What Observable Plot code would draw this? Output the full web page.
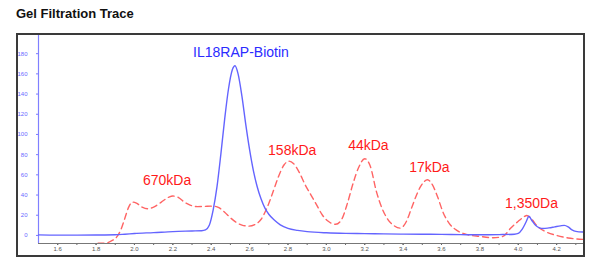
<!DOCTYPE html>
<html>
<head>
<meta charset="utf-8">
<script src="https://cdn.jsdelivr.net/npm/d3@7"></script>
<script src="https://cdn.jsdelivr.net/npm/@observablehq/plot@0.6"></script>
<style>
  html, body { margin: 0; padding: 0; background: #fff; width: 600px; height: 268px; overflow: hidden; }
  #title { position: absolute; left: 16px; top: 7px; font: bold 13px/13px "Liberation Sans", Arial, sans-serif; color: #111; white-space: nowrap; }
  #box { position: absolute; left: 16px; top: 33px; width: 565px; height: 220px; border: 2px solid #3a3a3a; background: #fff; }
  #box svg { display: block; }
</style>
</head>
<body>
<div id="title">Gel Filtration Trace</div>
<div id="box"></div>
<script>
// Blue trace: IL18RAP-Biotin (elution volume, absorbance)
const blueX = [1.50,1.60,1.70,1.80,1.90,1.95,2.00,2.10,2.20,2.30,2.35,2.37,2.39,2.41,2.43,2.45,2.47,2.49,2.51,2.524,2.54,2.56,2.58,2.60,2.62,2.64,2.66,2.68,2.70,2.73,2.76,2.80,2.85,2.90,3.00,3.10,3.20,3.30,3.40,3.50,3.60,3.70,3.80,3.90,3.98,4.00,4.02,4.04,4.056,4.07,4.09,4.11,4.13,4.16,4.19,4.22,4.24,4.26,4.28,4.30,4.34];
const blueY = [0.5,0.3,0.3,0.4,0.6,1.2,1.9,2.8,3.8,4.4,4.7,5.5,10,25,48,80,115,145,164,168,160,138,110,85,64,48,36,27,21,15,10.5,7,5,3.8,2.6,2.0,1.8,1.5,1.3,1.2,1.0,0.8,0.6,0.8,1.2,2,6,13,19,15,10,7.5,6.8,7.5,8.5,9.5,10,8.5,5.5,4,3.3];

// Red dashed trace: calibration standards
const redX = [1.81,1.85,1.88,1.91,1.93,1.95,1.97,1.99,2.01,2.04,2.067,2.10,2.14,2.18,2.20,2.23,2.26,2.29,2.33,2.37,2.41,2.44,2.47,2.50,2.53,2.56,2.597,2.63,2.66,2.69,2.72,2.75,2.78,2.805,2.83,2.86,2.89,2.92,2.95,2.98,3.01,3.049,3.08,3.11,3.14,3.17,3.20,3.23,3.26,3.29,3.32,3.35,3.384,3.42,3.44,3.47,3.49,3.527,3.55,3.58,3.61,3.64,3.68,3.73,3.80,3.87,3.92,3.96,4.00,4.03,4.044,4.07,4.10,4.14,4.20,4.26,4.34];
const redY = [-7.8,-7.5,-5.5,-1,6,17,28,33,32,28,26.4,28,33,38,39,37.5,33,30,28.5,28.8,29,27.5,23,17.5,13,10.2,9.2,11,16,27,42,58,70,73.6,71,62,50,40,30,20,14,11,16,32,52,68,76,68,44,27,16,10,7.2,15,25,40,48,55.2,51,38,22,12,5,1,-1,-2.3,-1,7,14,18.5,19.8,16,9,4,0,-2.5,-4];

// Annotations
const labelText = ["IL18RAP-Biotin","670kDa","158kDa","44kDa","17kDa","1,350Da"];
const labelX = [2.555,2.170,2.822,3.219,3.537,4.069];
const labelY = [181,54,83.7,88.7,67.2,31.9];
const labelColor = ["#2b2bff","#ff1a1a","#ff1a1a","#ff1a1a","#ff1a1a","#ff1a1a"];

// Axes
const xDomain = [1.5, 4.34];
const yDomain = [-8, 198];
const xTicks = [1.6,1.8,2.0,2.2,2.4,2.6,2.8,3.0,3.2,3.4,3.6,3.8,4.0,4.2];
const xMinorTicks = [1.6,1.7,1.8,1.9,2.0,2.1,2.2,2.3,2.4,2.5,2.6,2.7,2.8,2.9,3.0,3.1,3.2,3.3,3.4,3.5,3.6,3.7,3.8,3.9,4.0,4.1,4.2,4.3];
const yTicks = [0,20,40,60,80,100,120,140,160,180];

const blue = blueX.map((x, i) => ({x, y: blueY[i]}));
const red = redX.map((x, i) => ({x, y: redY[i]}));
const labels = labelText.map((t, i) => ({t, x: labelX[i], y: labelY[i], c: labelColor[i]}));

const chart = Plot.plot({
  width: 565,
  height: 220,
  marginLeft: 20,
  marginRight: 0,
  marginTop: 0,
  marginBottom: 12,
  style: {fontFamily: "'Liberation Sans', Arial, sans-serif", background: "#fff"},
  x: {domain: xDomain, axis: null, label: null},
  y: {domain: yDomain, axis: null, label: null},
  marks: [
    Plot.axisX(xMinorTicks, {tickSize: 2, tickFormat: () => "", stroke: "#666", label: null}),
    Plot.axisX(xTicks, {tickSize: 2, tickPadding: 1, tickFormat: d3.format(".1f"), fontSize: 6, fill: "#555", stroke: "#666", label: null}),
    Plot.axisY(yTicks, {tickSize: 2, tickPadding: 9, fontSize: 6, fill: "#6a6aff", stroke: "#7a7aff", label: null}),
    Plot.ruleY([yDomain[0]], {stroke: "#777", strokeWidth: 1}),
    Plot.ruleX([xDomain[0]], {stroke: "#8080ff", strokeWidth: 1.2}),
    Plot.line(red, {x: "x", y: "y", stroke: "#ff6464", strokeWidth: 1.4, strokeDasharray: "6,4", curve: "monotone-x", clip: true}),
    Plot.line(blue, {x: "x", y: "y", stroke: "#6464ff", strokeWidth: 1.4, curve: "monotone-x", clip: true}),
    Plot.text(labels, {x: "x", y: "y", text: "t", fill: "c", fontSize: 14, lineAnchor: "middle", textAnchor: "middle"})
  ]
});
document.getElementById("box").appendChild(chart);
</script>
</body>
</html>
